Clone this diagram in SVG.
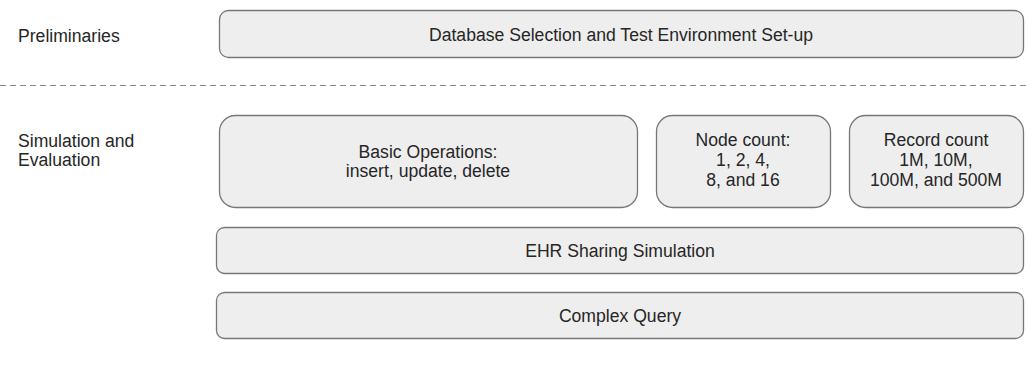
<svg xmlns="http://www.w3.org/2000/svg" width="1026" height="365" viewBox="0 0 1026 365">
<style>
.box{fill:#eeeeee;stroke:#777777;stroke-width:1.3}
text{font-family:"Liberation Sans",Arial,sans-serif;font-size:17.6px;fill:#262626}
.c{text-anchor:middle}
.sep{stroke:#888888;stroke-width:1;stroke-dasharray:6,4;fill:none}
</style>
<rect width="1026" height="365" fill="#ffffff"/>
<g id="labels">
<text x="18" y="42">Preliminaries</text>
<text x="18" y="147">Simulation and</text>
<text x="18" y="166">Evaluation</text>
</g>
<g id="connectors">
<line class="sep" x1="0" y1="85.5" x2="1026" y2="85.5"/>
</g>
<g id="db-setup">
<rect class="box" x="219.5" y="10.5" width="804" height="47" rx="9"/>
<text class="c" x="621" y="41">Database Selection and Test Environment Set-up</text>
</g>
<g id="basic-ops">
<rect class="box" x="219.5" y="115.5" width="418" height="92" rx="16"/>
<text class="c" x="428" y="158">Basic Operations:</text>
<text class="c" x="428" y="177">insert, update, delete</text>
</g>
<g id="node-count">
<rect class="box" x="656.5" y="115.5" width="174" height="92" rx="16"/>
<text class="c" x="743" y="146">Node count:</text>
<text class="c" x="743" y="166">1, 2, 4,</text>
<text class="c" x="743" y="186">8, and 16</text>
</g>
<g id="record-count">
<rect class="box" x="849.5" y="115.5" width="174" height="92" rx="16"/>
<text class="c" x="936" y="146">Record count</text>
<text class="c" x="936" y="166">1M, 10M,</text>
<text class="c" x="936" y="186">100M, and 500M</text>
</g>
<g id="ehr-sharing">
<rect class="box" x="216.5" y="227.5" width="807" height="46" rx="8"/>
<text class="c" x="620" y="257">EHR Sharing Simulation</text>
</g>
<g id="complex-query">
<rect class="box" x="216.5" y="292.5" width="807" height="46" rx="8"/>
<text class="c" x="620" y="322">Complex Query</text>
</g>
</svg>
